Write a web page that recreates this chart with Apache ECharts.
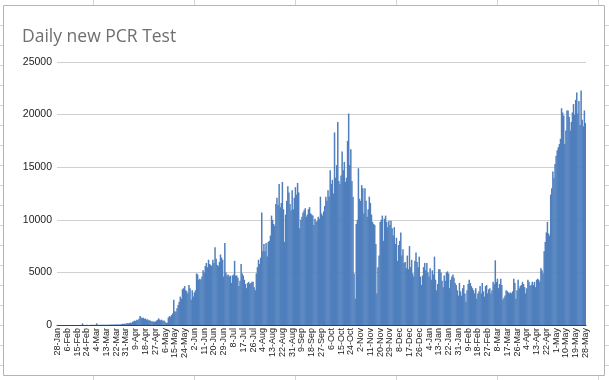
<!DOCTYPE html>
<html>
<head>
<meta charset="utf-8">
<script src="https://cdn.jsdelivr.net/npm/echarts@6/dist/echarts.min.js"></script>
<style>
html,body{margin:0;padding:0;background:#fff;}
#c{width:609px;height:380px;}
</style>
</head>
<body>
<div id="c"></div>
<script>
// Daily new PCR tests, 28-Jan-2020 .. 31-Dec-2020
var tests2020 = [
0,0,0,0,0,5,0,0,5,0,
5,0,0,5,0,10,0,5,0,10,
5,10,5,150,10,5,10,15,10,5,
10,15,10,20,10,15,160,15,20,10,
20,15,25,20,25,20,30,25,35,30,
40,35,45,40,50,45,55,40,60,70,
120,90,150,80,180,140,200,230,170,300,
350,420,380,500,450,600,860,720,650,700,
580,620,500,540,420,450,380,300,350,280,
330,400,480,630,520,450,500,380,420,300,
180,220,700,850,780,950,1100,2400,1300,1250,
1600,1900,2200,2700,2500,3400,3500,3700,3300,3200,
3000,3800,3500,2400,3300,2700,3100,3300,4900,4800,
4300,4400,4300,4600,5200,5000,5600,5900,5500,6200,
5800,5700,5600,6200,5900,7400,6300,5700,5600,6000,
6700,6400,6200,4600,7800,5000,4700,4800,4600,4700,
4000,4700,4800,6100,4700,4700,4500,3700,4200,5800,
4900,4700,4300,3900,3500,4000,4100,3900,4000,4100,
4100,3600,3300,4900,5500,6200,5800,6400,10700,7000,
7700,7000,7800,6500,7900,8000,8500,10400,10000,9600,
9400,11500,12100,11400,13400,11200,11600,13600,11000,7900,
10500,11800,13200,12600,11500,10900,12800,11000,12100,13100,
12400,13500,12600,9200,10000,10300,10700,10900,11100,10300,
10500,11000,11200,10600,10500,10400,9500,10100,9800,9900,
10300,10100,12200,10600,10400,10800,11300,12200,11800,12800,
12200,14700,13400,13800,12500,18300,14000,15200,19300,13700,
13400,14200,16500,14700,15500,13600,14000,17500,20100,15200,
16700,13700,12200,4900,2500,9600,10000,14900,12000,11800,
13300,13000,10600,13000,11800,10300,11000,12200,11600,10500,
9800,9600,9500,7700,3000,5500,6600,9800,10000,10400,
8000,10100,10400,9800,9300,9900,9500,9900,9200,8500,
9300,7700,8300,6100,7600,8000,8800,6600,7200,5900,
6000,5400,6600,5300,7500,5500,6200,4900,4600,6100,
6900,6000,5500,6500,4600,3800,4700,5500,5900
];
// Daily new PCR tests, 1-Jan-2021 .. 28-May-2021
var tests2021 = [
5200,
5900,5000,4600,5400,4300,5200,4800,6500,4300,3300,
3900,5300,5300,5000,4200,3600,4700,4200,5000,5100,
4900,3500,4300,4600,4800,4500,4000,3800,3300,2800,
4000,3200,2800,3500,3800,3000,2200,3300,3900,4300,
4000,3700,3500,3300,3000,3500,2500,3000,3200,3700,
3000,4000,3200,2700,3700,3800,3000,3400,3500,3000,
3300,4100,3900,6150,4100,4400,3500,3900,4400,3800,
2400,2600,2800,3300,3200,3100,3000,3100,3000,3200,
4400,4000,2500,3300,4300,3500,3700,3800,4100,3900,
3600,3000,3500,4300,4100,3700,3800,4100,3800,4100,
3600,4300,4400,4300,4100,5400,5200,4900,7000,7900,
8800,9800,8700,8500,12400,13000,14600,14000,15300,16100,
16600,16900,17200,17700,20600,20200,19900,17200,18500,20400,
20400,19800,18500,19300,20200,21000,20000,21400,22100,20100,
21300,19000,22300,19500,18900,20400,19200
];
var yTicks = [0, 5000, 10000, 15000, 20000, 25000];
var monthNames = ['Jan','Feb','Mar','Apr','May','Jun','Jul','Aug','Sep','Oct','Nov','Dec'];
var startDate = Date.UTC(2020, 0, 28);

var values = tests2020.concat(tests2021);
var categories = [];
for (var i = 0; i < values.length; i++) {
  var d = new Date(startDate + i * 86400000);
  categories.push(d.getUTCDate() + '-' + monthNames[d.getUTCMonth()]);
}

// Excel sheet cell lines outside the chart object
var cellLines = [];
var colX = [93.5, 194.5, 295.5, 396.5, 497.5, 598.5];
colX.forEach(function (x) {
  cellLines.push({type:'line', shape:{x1:x,y1:0,x2:x,y2:5}, style:{stroke:'#d4d4d4',lineWidth:1}, silent:true});
  cellLines.push({type:'line', shape:{x1:x,y1:376,x2:x,y2:380}, style:{stroke:'#d4d4d4',lineWidth:1}, silent:true});
});
for (var y = 25.5; y < 380; y += 20) {
  cellLines.push({type:'line', shape:{x1:0,y1:y,x2:3,y2:y}, style:{stroke:'#d4d4d4',lineWidth:1}, silent:true});
  cellLines.push({type:'line', shape:{x1:605,y1:y,x2:609,y2:y}, style:{stroke:'#d4d4d4',lineWidth:1}, silent:true});
}
cellLines.push({type:'rect', shape:{x:3.5,y:5.5,width:601,height:370}, style:{fill:null,stroke:'#b4b4b4',lineWidth:1}, silent:true, z:-1});

var chart = echarts.init(document.getElementById('c'), null, {renderer:'canvas'});
chart.setOption({
  animation: false,
  backgroundColor: '#fff',
  title: {
    text: 'Daily new PCR Test',
    left: 17,
    top: 23,
    textStyle: {fontFamily:'Open Sans', fontSize:17.5, fontWeight:'normal', color:'#6f6f6f'}
  },
  graphic: cellLines,
  grid: {left: 57, right: 23, top: 62, bottom: 55, containLabel: false},
  xAxis: {
    type: 'category',
    data: categories,
    boundaryGap: true,
    axisLine: {show:true, lineStyle:{color:'#404040', width:1}},
    axisTick: {show:false},
    axisLabel: {
      interval: 8,
      rotate: 90,
      margin: 3,
      fontFamily: 'Liberation Sans',
      fontSize: 9,
      color: '#222'
    },
    splitLine: {show:false}
  },
  yAxis: {
    type: 'value',
    min: yTicks[0],
    max: yTicks[yTicks.length - 1],
    interval: 5000,
    axisLine: {show:false},
    axisTick: {show:false},
    axisLabel: {
      fontFamily:'Liberation Sans', fontSize:10.5, color:'#222', margin:5,
      formatter: function (v) { return String(v); }
    },
    splitLine: {lineStyle:{color:'#d0d0d0', width:1}}
  },
  series: [{
    type: 'bar',
    data: values,
    barWidth: 1.5,
    itemStyle: {color:'#4f7fbd'}
  }]
});
</script>
</body>
</html>
